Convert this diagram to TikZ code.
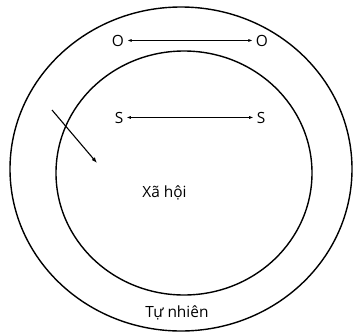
\documentclass[tikz,border=0pt]{standalone}
\usepackage{fontspec}
\setmainfont{Open Sans}
\usetikzlibrary{arrows.meta,positioning}
\tikzset{
  vong/.style={line width=1.4bp},
  nyil/.style={line width=1.1bp,-{Latex[length=2mm,width=1.5mm]}},
  kettos/.style={line width=1bp,{Latex[length=1.6mm,width=1.1mm]}-{Latex[length=1.6mm,width=1.1mm]}},
  cimke/.style={inner sep=3pt,anchor=base,font=\fontsize{15.5}{18}\selectfont},
}
\begin{document}
\begin{tikzpicture}[x=1bp,y=-1bp]
  \useasboundingbox (0,0) rectangle (353,335);
  \draw[vong] (181,169) ellipse [x radius=171,y radius=162];
  \draw[vong] (184,173) ellipse [x radius=128,y radius=122];
  \node[cimke] (o1) at (118,46) {O}; \node[cimke] (o2) at (262,46) {O};
  \draw[kettos] (o1) -- (o2);
  \node[cimke] (s1) at (119,123) {S}; \node[cimke] (s2) at (261,123) {S};
  \draw[kettos] (s1) -- (s2);
  \node[cimke] (xh) at (164.5,197) {Xã hội};
  \node[cimke] (tn) at (177,317) {Tự nhiên};
  \coordinate (a) at (52,110); \coordinate (b) at (97,163);
  \draw[nyil] (a) -- (b);
\end{tikzpicture}
\end{document}
